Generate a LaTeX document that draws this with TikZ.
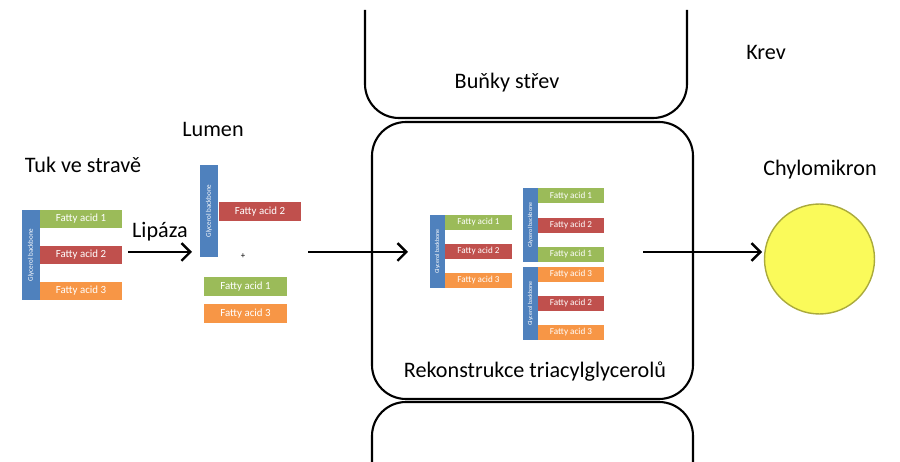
\documentclass[tikz,border=0pt]{standalone}
\usepackage{fontspec}
\setmainfont{Carlito}
\usetikzlibrary{arrows.meta}

\definecolor{glyblue}{RGB}{79,129,189}
\definecolor{fagreen}{RGB}{155,187,89}
\definecolor{fared}{RGB}{192,80,77}
\definecolor{faorange}{RGB}{247,150,70}
\definecolor{chylofill}{RGB}{250,250,90}
\definecolor{chyloline}{RGB}{170,170,60}

\tikzset{
	lbl/.style={font=\fontsize{12.6}{15}\selectfont},
	cell/.style={line width=1.2pt, rounded corners=0.68cm},
	bar/.style={fill=#1, inner sep=0pt, text=white},
	fa/.style={bar=#1, minimum width=1.64cm, minimum height=0.36cm, font=\fontsize{6.2}{7}\selectfont},
	fas/.style={bar=#1, minimum width=1.34cm, minimum height=0.30cm, font=\fontsize{5.2}{6}\selectfont},
	gly/.style={bar=glyblue, rotate=90, minimum width=1.8cm, minimum height=0.36cm, font=\fontsize{4}{5}\selectfont},
	glys/.style={bar=glyblue, rotate=90, minimum width=1.46cm, minimum height=0.30cm, font=\fontsize{3.4}{4}\selectfont},
	flow/.style={-{Straight Barb[length=5pt,width=10pt]}, line width=1.4pt}
}

\begin{document}
\begin{tikzpicture}[x=0.02cm, y=-0.02cm]
	\useasboundingbox (0,0) rectangle (900,462);
	% cells
	\draw[cell] (365,10) -- (365,118) -- (687,118) -- (687,10);
	\draw[cell] (372,122) rectangle (693,399);
	\draw[cell] (372,462) -- (372,402) -- (693,402) -- (693,462);
	% labels
	\node[lbl] (krev) at (766,52) {Krev};
	\node[lbl] (bunky) at (507,83) {Buňky střev};
	\node[lbl] (lumen) at (213,129) {Lumen};
	\node[lbl] (tuk) at (83,165) {Tuk ve stravě};
	\node[lbl] (lipaza) at (160,232) {Lipáza};
	\node[lbl] (chylolbl) at (820,170) {Chylomikron};
	\node[lbl] (rekon) at (535,372) {Rekonstrukce triacylglycerolů};
	% tuk ve strave
	\node[gly] (g1) at (31,255) {Glycerol backbone};
	\node[fa=fagreen] (f11) at (81,219) {Fatty acid 1};
	\node[fa=fared] (f12) at (81,255) {Fatty acid 2};
	\node[fa=faorange] (f13) at (81,291) {Fatty acid 3};
	% lumen
	\node[gly, minimum width=1.84cm, minimum height=0.38cm] (g2) at (209,211) {Glycerol backbone};
	\node[fa=fared, minimum height=0.38cm] (f22) at (260,211.5) {Fatty acid 2};
	\node (plus) at (243,256) {\tiny +};
	\node[fa=fagreen, minimum width=1.66cm, minimum height=0.38cm] (f21) at (245.5,286.5) {Fatty acid 1};
	\node[fa=faorange, minimum width=1.66cm, minimum height=0.38cm] (f23) at (245.5,313.5) {Fatty acid 3};
	% rekonstrukce
	\node[glys] (g3) at (437.5,251.5) {Glycerol backbone};
	\node[fas=fagreen] (f31) at (478.5,222.5) {Fatty acid 1};
	\node[fas=fared] (f32) at (478.5,251.5) {Fatty acid 2};
	\node[fas=faorange] (f33) at (478.5,280.5) {Fatty acid 3};
	\node[glys, minimum width=1.48cm] (g4) at (530.5,225) {Glycerol backbone};
	\node[fas=fagreen] (f41) at (571,196) {Fatty acid 1};
	\node[fas=fared] (f42) at (571,225.5) {Fatty acid 2};
	\node[fas=fagreen] (f43) at (571,254.5) {Fatty acid 1};
	\node[glys] (g5) at (530.5,303.5) {Glycerol backbone};
	\node[fas=faorange] (f51) at (571,274.5) {Fatty acid 3};
	\node[fas=fared] (f52) at (571,303.5) {Fatty acid 2};
	\node[fas=faorange] (f53) at (571,332.5) {Fatty acid 3};
	% chylomikron
	\node[circle, fill=chylofill, draw=chyloline, line width=0.8pt, minimum size=2.2cm] (chylo) at (819.5,259) {};
	% arrows
	\coordinate (a1s) at (128,252);
	\coordinate (a1e) at (192,252);
	\coordinate (a2s) at (308,252);
	\coordinate (a2e) at (408,252);
	\coordinate (a3s) at (643,252);
	\coordinate (a3e) at (762,252);
	\draw[flow] (a1s) -- (a1e);
	\draw[flow] (a2s) -- (a2e);
	\draw[flow] (a3s) -- (a3e);
\end{tikzpicture}
\end{document}
